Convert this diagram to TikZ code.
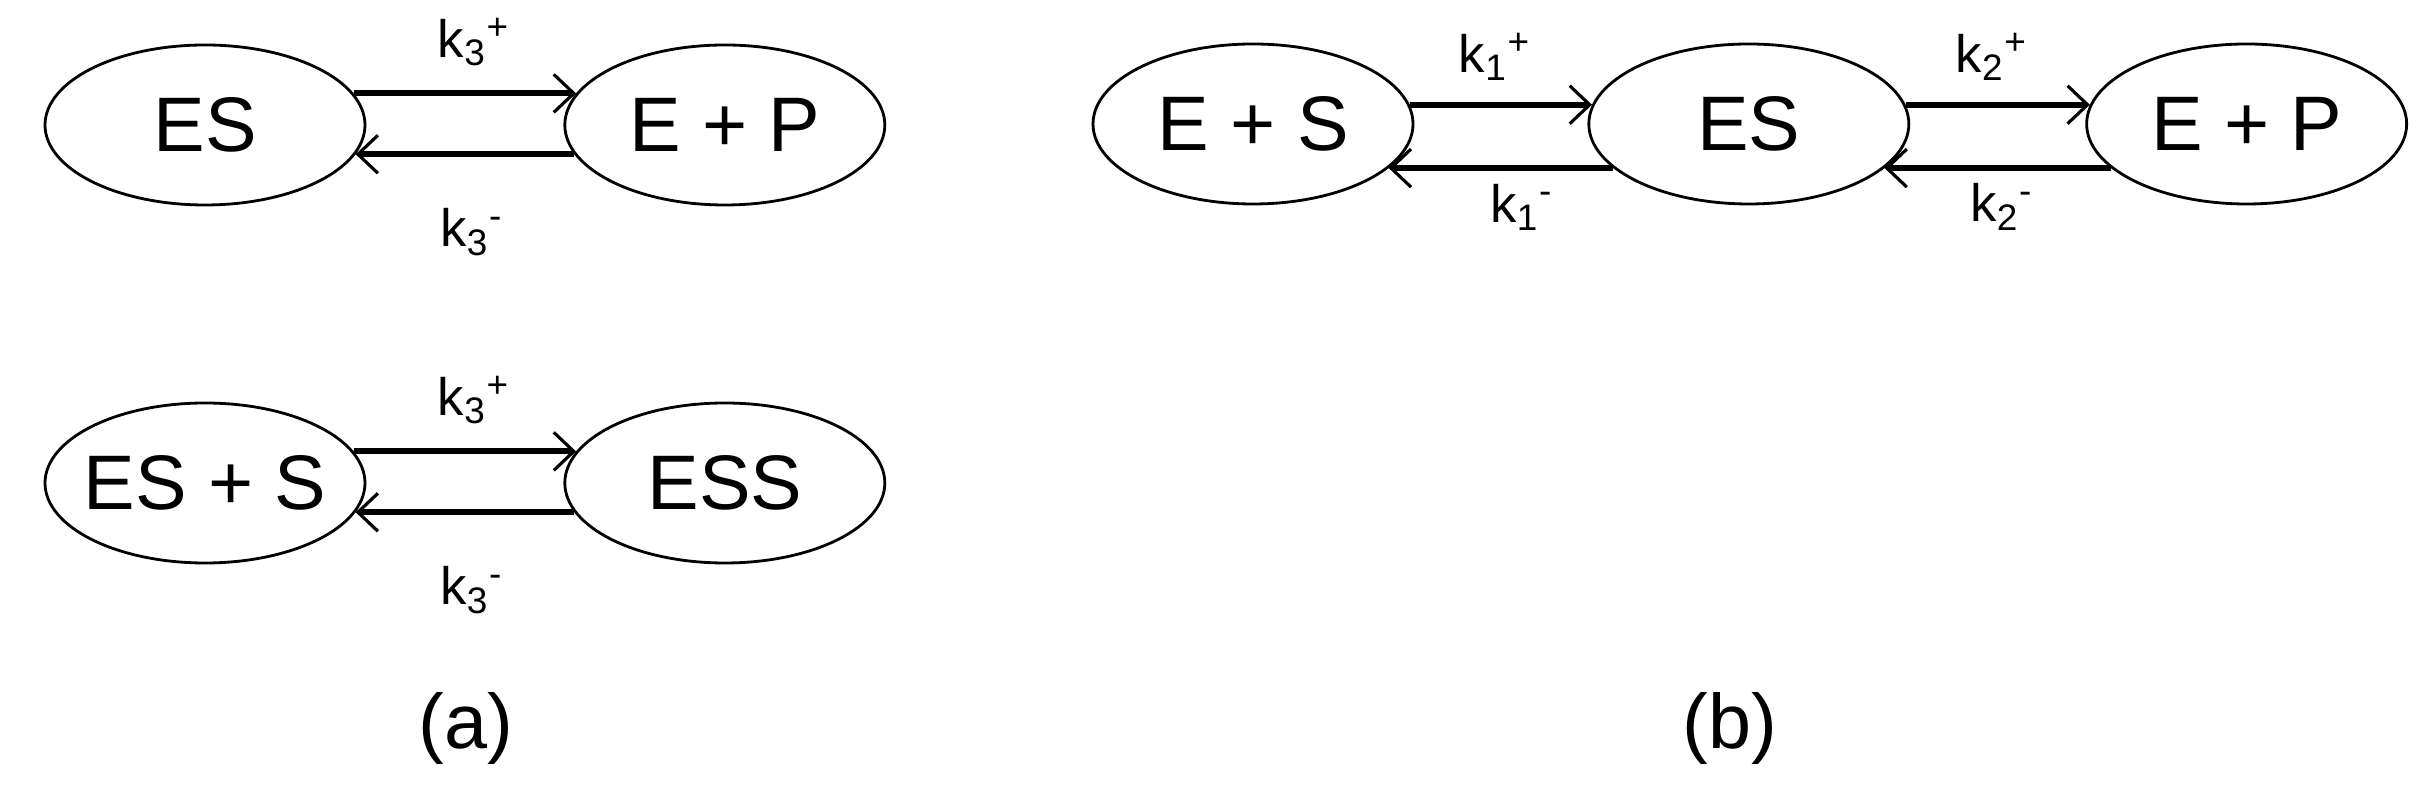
\documentclass[tikz,border=0pt]{standalone}
\usepackage{fontspec}
\setmainfont{Liberation Sans}
\usepackage{tikz}
\usetikzlibrary{arrows.meta,positioning,shapes.geometric,calc}
\tikzset{
  kin/state/.style={draw, ellipse, line width=0.8pt, minimum width=32mm, minimum height=16mm, inner xsep=-3pt, inner ysep=2pt, font=\fontsize{22}{26}\selectfont},
  kin/rate/.style={font=\fontsize{15}{18}\selectfont, inner sep=1pt},
  kin/react/.style={line width=1.7pt, -{Straight Barb[length=2mm, width=3.8mm, line width=0.9pt]}},
  kin/caption/.style={font=\fontsize{22}{26}\selectfont}
}
\newcommand{\rate}[2]{k\textsubscript{#1}\textsuperscript{#2}}

\begin{document}
\begin{tikzpicture}
  \useasboundingbox (0,0) rectangle (24.29,-7.92);
  % (a) top: ES <-> E + P
  \node[kin/state] (esa) at (2.05,-1.25) {ES};
  \node[kin/state, right=1.97cm of esa] (epa) {E + P};
  \draw[kin/react] (esa.12) -- (epa.168);
  \draw[kin/react] (epa.191) -- (esa.349);
  \node[kin/rate] (k3fa) at ($(esa)!0.5!(epa)+(0.09,0.83)$) {\rate{3}{+}};
  \node[kin/rate] (k3ba) at ($(esa)!0.5!(epa)+(0.07,-1.07)$) {\rate{3}{-}};

  % (a) bottom: ES + S <-> ESS
  \node[kin/state] (esplus) at (2.05,-4.83) {ES + S};
  \node[kin/state, right=1.97cm of esplus] (ess) {ESS};
  \draw[kin/react] (esplus.12) -- (ess.168);
  \draw[kin/react] (ess.191) -- (esplus.349);
  \node[kin/rate] (k3fb) at ($(esplus)!0.5!(ess)+(0.09,0.83)$) {\rate{3}{+}};
  \node[kin/rate] (k3bb) at ($(esplus)!0.5!(ess)+(0.07,-1.07)$) {\rate{3}{-}};

  % (b) E + S <-> ES <-> E + P
  \node[kin/state] (esub) at (12.53,-1.24) {E + S};
  \node[kin/state, right=1.73cm of esub] (cplx) {ES};
  \node[kin/state, right=1.75cm of cplx] (prod) {E + P};
  \draw[kin/react] (esub.7) -- (cplx.173);
  \draw[kin/react] (cplx.198) -- (esub.342);
  \draw[kin/react] (cplx.7) -- (prod.173);
  \draw[kin/react] (prod.198) -- (cplx.342);
  \node[kin/rate] (k1f) at ($(esub)!0.5!(cplx)+(-0.06,0.67)$) {\rate{1}{+}};
  \node[kin/rate] (k1b) at ($(esub)!0.5!(cplx)+(0.21,-0.83)$) {\rate{1}{-}};
  \node[kin/rate] (k2f) at ($(cplx)!0.5!(prod)+(-0.06,0.67)$) {\rate{2}{+}};
  \node[kin/rate] (k2b) at ($(cplx)!0.5!(prod)+(0.04,-0.83)$) {\rate{2}{-}};

  \node[kin/caption] (capa) at (4.66,-7.28) {(a)};
  \node[kin/caption] (capb) at (17.30,-7.28) {(b)};
\end{tikzpicture}
\end{document}
